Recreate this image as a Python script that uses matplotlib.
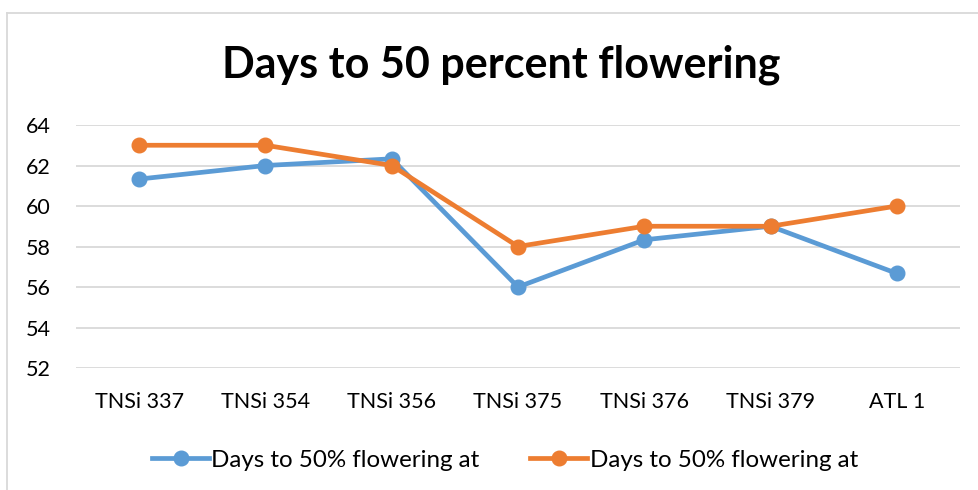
import matplotlib
matplotlib.use("Agg")
import matplotlib.pyplot as plt
from matplotlib.lines import Line2D

categories = ["TNSi 337", "TNSi 354", "TNSi 356", "TNSi 375", "TNSi 376", "TNSi 379", "ATL 1"]
series1 = [61.33, 62.0, 62.33, 56.0, 58.33, 59.0, 56.67]
series2 = [63.0, 63.0, 62.0, 58.0, 59.0, 59.0, 60.0]
label1 = "Days to 50% flowering at"
label2 = "Days to 50% flowering at"
yticks = [52, 54, 56, 58, 60, 62, 64]

plt.rcParams['font.family'] = ['Lato', 'DejaVu Sans']

fig = plt.figure(figsize=(9.79, 4.90), dpi=100)
W, H = 979, 490
ax = fig.add_axes([76 / W, 1 - 368 / H, (960 - 76) / W, (368 - 125) / H])

x = list(range(len(categories)))
c1 = "#5B9BD5"
c2 = "#ED7D31"
ax.plot(x, series1, color=c1, lw=3.4, marker='o', ms=10.5, solid_capstyle='round', zorder=3)
ax.plot(x, series2, color=c2, lw=3.4, marker='o', ms=10.5, solid_capstyle='round', zorder=4)

ax.set_xlim(-0.5, len(categories) - 0.5)
ax.set_ylim(52, 64)
ax.set_yticks(yticks)
ax.set_xticks(x)
ax.set_xticklabels(categories)
ax.grid(axis='y', color='#D9D9D9', lw=1.3)
ax.set_axisbelow(True)
for s in ax.spines.values():
    s.set_visible(False)
ax.tick_params(axis='both', length=0, labelsize=15.5, colors='#000000')
ax.tick_params(axis='x', pad=17)
ax.tick_params(axis='y', pad=18)

fig.text(0.5 * (218 + 785) / W, 1 - 65 / H, "Days to 50 percent flowering",
         ha='center', va='center', fontsize=31, fontweight='bold')

handles = [Line2D([], [], color=c1, lw=3.4, marker='o', ms=10.5),
           Line2D([], [], color=c2, lw=3.4, marker='o', ms=10.5)]
fig.legend(handles, [label1, label2], loc='center', bbox_to_anchor=(505 / W, 1 - 460 / H),
           ncol=2, frameon=False, fontsize=17.4, handlelength=2.35, columnspacing=2.1,
           handletextpad=0.1)

# chart border (left and top)
fig.add_artist(Line2D([7 / W, 7 / W], [0, 1 - 13 / H], color='#D9D9D9', lw=1.3, transform=fig.transFigure))
fig.add_artist(Line2D([7 / W, 1], [1 - 13 / H, 1 - 13 / H], color='#D9D9D9', lw=1.3, transform=fig.transFigure))

fig.savefig("out.png", dpi=100)
